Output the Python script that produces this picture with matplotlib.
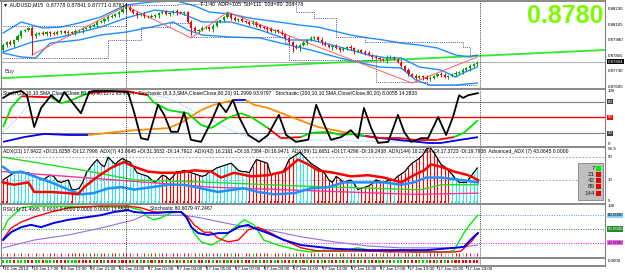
import matplotlib
matplotlib.use("Agg")
import matplotlib.pyplot as plt
from matplotlib.patches import Rectangle

plt.rcParams["font.family"] = ["Liberation Sans", "DejaVu Sans"]

# ---------------- price bars (AUDUSD, M15) ----------------
open0 = 0.87900
closes = [0.87940, 0.87964, 0.87948, 0.87981, 0.88013, 0.88053, 0.88061, 0.88077, 0.88013, 0.88029,
          0.88037, 0.88029, 0.88045, 0.88037, 0.88029, 0.88045, 0.88053, 0.88037, 0.88045, 0.88037,
          0.88053, 0.88061, 0.88069, 0.88077, 0.88093, 0.88101, 0.88126, 0.88134, 0.88150, 0.88166,
          0.88174, 0.88190, 0.88206, 0.88230, 0.88247, 0.88222, 0.88198, 0.88182, 0.88190, 0.88174,
          0.88166, 0.88174, 0.88182, 0.88198, 0.88206, 0.88190, 0.88198, 0.88214, 0.88206, 0.88198,
          0.88206, 0.88126, 0.88077, 0.88053, 0.88061, 0.88077, 0.88085, 0.88069, 0.88093, 0.88126,
          0.88142, 0.88166, 0.88190, 0.88158, 0.88142, 0.88150, 0.88134, 0.88126, 0.88110, 0.88118,
          0.88101, 0.88085, 0.88077, 0.88069, 0.88053, 0.88061, 0.88045, 0.88029, 0.87997, 0.87964,
          0.87932, 0.87916, 0.87940, 0.87956, 0.87981, 0.87997, 0.88005, 0.87981, 0.87956, 0.87940,
          0.87924, 0.87932, 0.87916, 0.87900, 0.87908, 0.87924, 0.87916, 0.87892, 0.87900, 0.87884,
          0.87876, 0.87860, 0.87844, 0.87836, 0.87827, 0.87819, 0.87836, 0.87844, 0.87827, 0.87803,
          0.87771, 0.87739, 0.87707, 0.87690, 0.87674, 0.87690, 0.87682, 0.87666, 0.87674, 0.87690,
          0.87707, 0.87699, 0.87682, 0.87690, 0.87707, 0.87715, 0.87723, 0.87739, 0.87755, 0.87771,
          0.87787, 0.87804]
hi_wick = ("324132213423" "124321324132" "143214321324" "132413214321" "322134231243" "213241321432"
           "143213241324" "132143213241" "322134231243" "213241321432" "143213241321")
lo_wick = ("231423124312" "342132413241" "213243124132" "241321342132" "413241321342" "132413214231"
           "241321432142" "314231241321" "342132413241" "213241324132" "142314231423")
spike_idx = [8, 52, 80]
spike_low = [0.87860, 0.88021, 0.87884]

# bands and channels (bar index, price)
bb_up_x = [0, 5, 11, 16, 21, 27, 31, 34, 41, 48, 53, 57, 63, 68, 78, 82, 87, 96, 101, 105, 110, 115, 120, 125, 129, 131]
bb_up = [0.88037, 0.88126, 0.88077, 0.88085, 0.88118, 0.88166, 0.88222, 0.88263, 0.88287, 0.88295, 0.88255, 0.88206,
         0.88190, 0.88158, 0.88118, 0.88101, 0.88085, 0.88021, 0.87997, 0.87981, 0.87956, 0.87940, 0.87916, 0.87860,
         0.87844, 0.87860]
bb_mid_x = [0, 8, 16, 27, 34, 42, 49, 55, 63, 71, 79, 85, 91, 101, 106, 110, 115, 121, 125, 127, 131]
bb_mid = [0.87884, 0.87964, 0.88005, 0.88085, 0.88158, 0.88222, 0.88198, 0.88126, 0.88126, 0.88061, 0.87981,
          0.87981, 0.87940, 0.87860, 0.87836, 0.87836, 0.87763, 0.87739, 0.87682, 0.87715, 0.87763]
bb_lo_x = [0, 5, 9, 13, 21, 27, 34, 41, 47, 51, 55, 63, 71, 79, 85, 93, 104, 110, 114, 118, 125, 131]
bb_lo = [0.87876, 0.87844, 0.87836, 0.87956, 0.87981, 0.88021, 0.88045, 0.88085, 0.88126, 0.88061, 0.88021,
         0.88005, 0.87997, 0.87940, 0.87900, 0.87836, 0.87763, 0.87755, 0.87658, 0.87618, 0.87618, 0.87634]
ch_up_x = [0, 34, 48, 55, 81, 86, 92, 100, 127, 129, 131]
ch_up = [0.88093, 0.88263, 0.88271, 0.88287, 0.88206, 0.88158, 0.88005, 0.87964, 0.87924, 0.87860, 0.87860]
ch_lo_x = [0, 29, 38, 46, 52, 78, 79, 103, 117, 131]
ch_lo = [0.87836, 0.87981, 0.88085, 0.88118, 0.88005, 0.87956, 0.87819, 0.87642, 0.87618, 0.87618]
zz_x = [8, 34, 52, 62, 113, 131]
zz = [0.87860, 0.88255, 0.87997, 0.88206, 0.87634, 0.87844]
trend_x = [0, 166]
trend = [0.87674, 0.87900]
bid = 0.87804
price_ticks = [0.88230, 0.88105, 0.87980, 0.87855, 0.87730, 0.87605]

# ---------------- stochastics ----------------
stk_x = [0, 2.2, 5, 6.6, 8.6, 10.5, 13.3, 15.5, 16.9, 19.3, 21.5, 23.8, 24.9, 29.8, 34.5, 36.2, 38.1, 40, 42.8,
         44.5, 46.4, 48.3, 50, 51.9, 54.7, 57.5, 59.7, 61.6, 63.5, 65.2, 67.7, 70.7, 73.2, 76.2, 78.2, 80.9, 84.3,
         86.5, 88.4, 90.6, 93.4, 96.1, 98.1, 99.7, 101.7, 103.6, 106.4, 109.1, 110.8, 112.7, 115.5, 117.4, 120.2,
         122.4, 124.3, 126, 127.1, 128.5, 131.2]
stk = [87, 96, 100, 92, 32, 68, 92, 79, 98, 77, 58, 98, 100, 100, 98, 60, 11, 8, 74, 55, 23, 23, 60, 8, 4, 42,
       77, 60, 83, 51, 17, 4, 17, 55, 17, 4, 8, 74, 42, 8, 13, 26, 11, 68, 30, 2, 4, 55, 23, 4, 11, 11, 51, 17,
       51, 92, 87, 92, 96]
sl_x = [0, 2.2, 5, 13.3, 16, 19, 23.5, 27, 34, 40, 41.5, 45.6, 51, 54.7, 57.5, 62, 65.7, 68.5, 73.2, 76.8,
        82.3, 85, 89.8, 93.4, 97, 100, 104.4, 110, 113.5, 120, 124.6, 127.3, 131.2]
sl = [32, 68, 90, 88, 77, 83, 96, 98, 100, 92, 79, 64, 58, 36, 30, 49, 58, 51, 30, 11, 13, 21, 23, 17, 19,
      15, 11, 11, 8, 8, 13, 21, 45]
sl_col = "ggrgggrrrg" "gggggggg" "rrg" "gggg" "rrrrr" "gg"
s200_x = [0, 5.8, 11.3, 18, 23.5, 36.2, 45.6, 49.2, 54.7, 58.3, 63.8, 67, 69.3, 73.2, 80.4, 87, 91.4, 95.3,
          98, 104.4, 117.4, 121, 126.5, 131.2]
s200 = [4, 13, 19, 17, 17, 26, 30, 40, 64, 74, 83, 83, 74, 68, 49, 32, 26, 21, 17, 11, 2, 2, 8, 13]
s200_col = "bbbb" "oooooo" "b" "ooooooo" "bbbbb"
sig_x = [0, 4, 8.6, 18, 29, 36, 45.6, 54.7, 64, 69, 82, 110, 131]
sig = [23, 49, 87, 96, 100, 98, 87, 55, 23, 11, 8, 4, 11]

# ---------------- ADX ----------------
adx7 = [30, 32, 34, 36, 37, 37, 36, 36, 34, 33, 31, 30, 32, 34, 33, 29, 28, 29, 30, 22,
        22, 23, 28, 36, 40, 44, 47, 43, 41, 49, 46, 43, 46, 48, 46, 45, 41, 36, 35, 34,
        33, 30, 28, 31, 34, 33, 30, 33, 37, 37, 38, 37, 36, 35, 34, 33, 34, 37, 38, 40,
        41, 42, 43, 44, 41, 38, 37, 37, 36, 42, 47, 46, 45, 44, 34, 35, 36, 36, 40, 47,
        49, 51, 53, 50, 47, 44, 42, 40, 38, 35, 30, 28, 33, 31, 28, 29, 30, 27, 22, 23,
        24, 25, 27, 30, 29, 28, 29, 30, 30, 33, 35, 37, 41, 44, 46, 48, 51, 56, 57, 53,
        48, 43, 41, 38, 35, 31, 28, 28, 28, 32, 36, 40]
adx_col = ("rrcccccccccc" "cccccccrcccc" "cccccccccccc" "ccccccccrrrr" "rrrrrrrccccc" "ccccccccrrrr"
           "rrrrrrrrrccc" "ccrrrrrrrrrr" "cccrrrrrrrcr" "crrrrrrrrrrr" "rrrrcccccccc")
ar_x = [0, 3, 7, 8.6, 13.3, 18, 20.7, 22.4, 26.2, 29.8, 33.4, 36.2, 40, 43.6, 48.3, 52.8, 57.5, 60.2, 63.8,
        68.5, 73.2, 77.6, 81.5, 84.3, 87, 91.4, 96.1, 100.8, 105.2, 110, 113.5, 116.3, 118.2, 121, 124.6,
        128.5, 131.2]
ar = [28, 26, 28, 20, 20, 19, 18, 24, 33, 40, 45, 41, 37, 36, 36, 38, 37, 32, 36, 33, 34, 37, 47, 43, 38,
      36, 33, 34, 32, 28, 34, 38, 43, 41, 37, 34, 30]
ab_x = [0, 2.2, 5, 8.6, 13.3, 18, 21.5, 25, 29, 32.6, 36.2, 41, 45.6, 50, 54.7, 59.4, 63.8, 66.6, 70.4, 74.9,
        80.4, 85, 89.8, 94.2, 100.8, 105.2, 110, 113.5, 116.9, 121, 126.5, 131.2]
ab = [41, 36, 37, 33, 28, 22, 18, 19, 23, 24, 22, 24, 26, 26, 23, 20, 22, 23, 20, 18, 19, 23, 24, 28, 28,
      28, 26, 28, 32, 32, 30, 28]
ag_x = [0, 24.3, 36.2, 57.5, 82, 113.5, 115.5, 121, 131.2]
ag = [49, 37, 30, 28, 25, 22, 22, 26, 26]
am_x = [0, 57.5, 113.5, 131.2]
am = [37, 24, 18, 19]
legend_periods = ["7", "21", "42", "89", "144"]
legend_cols = ["#00ee00", "#ee0000", "#ee0000", "#ee0000", "#ee0000"]

# ---------------- RSI panel ----------------
rb_x = [0, 2.2, 5, 7.7, 10.5, 14, 18, 23.5, 27, 30.7, 34.5, 36.2, 39, 42.8, 46.4, 49.2, 50.6, 52, 53.9, 56.6,
        59.4, 62, 65, 67.7, 69.3, 73.2, 77.6, 82.3, 87, 91.4, 100.8, 110, 117, 124.6, 127.3, 130, 131.2]
rb = [26, 43, 54, 59, 54, 63, 70, 76, 80, 87, 91, 87, 85, 85, 87, 87, 76, 54, 41, 37, 41, 41, 54, 59, 52,
      41, 26, 15, 11, 7, 4, 4, 4, 9, 11, 33, 41]
rr_x = [0, 2.2, 5, 8.6, 13.3, 18, 22.4, 27, 34.5, 38.1, 41.7, 45.6, 49.2, 51.1, 52.8, 55.5, 57.5, 59.4, 62.2,
        65, 67.7, 70.4, 74, 77.6, 82.3, 87, 99, 110, 124.6, 126.5, 129.3, 131.2]
rr = [28, 52, 65, 76, 87, 96, 98, 100, 100, 96, 87, 87, 87, 76, 59, 43, 43, 30, 22, 26, 48, 54, 41, 26, 9, 2,
      2, 0, 0, 2, 22, 41]
rg_x = [0, 1.4, 5, 8.6, 34.5, 38.1, 40, 41.7, 43.6, 46.4, 49.2, 51.1, 52.8, 54.7, 57.5, 60.2, 63.8, 66.6,
        69.3, 72, 76, 81.5, 85, 88.7, 93.4, 98, 102.5, 107.2, 110, 113.5, 123, 124.6, 127.3, 129.3, 131.2]
rg = [48, 70, 96, 100, 98, 91, 76, 70, 74, 85, 87, 70, 41, 22, 15, 26, 52, 70, 59, 26, 15, 4, 0, 4, 2, 9, 2,
      0, 4, 0, 0, 4, 41, 63, 80]
rp_x = [0, 8.6, 18, 27, 36.2, 39, 50, 54.7, 63.8, 73.2, 82.3, 91.4, 100.8, 110, 124.6, 131.2]
rp = [9, 26, 37, 52, 70, 80, 80, 74, 59, 48, 33, 22, 13, 9, 9, 15]
tick_col = ("prprprprprpr" "prrprprrrrrg" "rrgrrgrrgrrr" "prprgrrgrrpr" "rprrprgrrgrr" "grrgrrprrgrr"
            "rrprrgrrgrrr" "prrgrprrgrrp" "rrgrrprrgrrp" "rrprrgrrpprr" "rrppgrrprrpr")
dot_col = ("gggrgggrrggr" "gggrrrgggrrr" "rgrrgrrrgrrr" "grgrgrgrrgrg" "rgrgrgrrgrgr" "grgrgrgrrgrg"
           "rgrgrgrrgrgr" "grgrgrgrrgrg" "rgrgrgrrgrgr" "gggrgrrgggrr" "grgrgrrrrrrr")

time_idx = [0, 8, 16, 24, 32, 40, 48, 56, 64, 72, 80, 88, 96, 104, 112, 120, 128]
time_lbl = ["16 Jan 2014", "16 Jan 17:00", "16 Jan 19:00", "16 Jan 21:00", "16 Jan 23:00", "17 Jan 01:00",
            "17 Jan 03:00", "17 Jan 05:00", "17 Jan 07:00", "17 Jan 09:00", "17 Jan 11:00", "17 Jan 13:00",
            "17 Jan 15:00", "17 Jan 17:00", "17 Jan 19:00", "17 Jan 21:00", "17 Jan 23:00"]

# ---------------- figure ----------------
W, H = 625, 273
fig = plt.figure(figsize=(6.25, 2.73), dpi=100)
fig.patch.set_facecolor("white")
XL = (-0.3, 166.3)
GREEN, RED = "#00a000", "#ff0000"
CMAP = {"g": "#00dd00", "r": "#ff0000", "b": "#0000ee", "o": "#ff8c00", "c": "#33e6ee", "p": "#ff99bb"}


def px_axes(y0, y1, x0=2, x1=605):
    a = fig.add_axes([x0 / W, 1 - y1 / H, (x1 - x0) / W, (y1 - y0) / H])
    a.set_xlim(*XL)
    a.axis("off")
    return a


def ftext(x, y, s, **kw):
    kw.setdefault("fontsize", 3.6)
    kw.setdefault("va", "center")
    fig.text(x / W, 1 - y / H, s, **kw)


def seg_plot(a, xs, ys, cols, lw):
    for k in range(len(xs) - 1):
        a.plot(xs[k:k + 2], ys[k:k + 2], color=CMAP[cols[k]], lw=lw, solid_capstyle="butt")


def right_label(a, v, s, fc=None, tc="black"):
    bb = dict(boxstyle="square,pad=0.12", fc=fc, ec="none") if fc else None
    a.text(1.004, v, s, transform=a.get_yaxis_transform(), fontsize=3.2, va="center",
           ha="left", color=tc, bbox=bb, clip_on=False)


# main price panel
ax = px_axes(2, 89)
ax.set_ylim(0.87586, 0.88287)
ax.axhline(bid, color="#b4b4b4", lw=0.8)
ax.plot(trend_x, trend, color="#2ee82e", lw=1.3)
ax.plot(bb_up_x, bb_up, color="#1e90ff", lw=1.0)
ax.plot(bb_mid_x, bb_mid, color="#1e90ff", lw=1.0)
ax.plot(bb_lo_x, bb_lo, color="#1e90ff", lw=1.0)
ax.plot(ch_up_x, ch_up, color="#5050a0", lw=0.7, ls=(0, (1, 1.2)), drawstyle="steps-post")
ax.plot(ch_lo_x, ch_lo, color="#5050a0", lw=0.7, ls=(0, (1, 1.2)), drawstyle="steps-post")
ax.plot(zz_x, zz, color="#ff6060", lw=0.7)
opens = [open0] + closes[:-1]
for i, (o, c) in enumerate(zip(opens, closes)):
    col = GREEN if c >= o else RED
    hi = max(o, c) + int(hi_wick[i]) * 0.00005
    lo = min(o, c) - int(lo_wick[i]) * 0.00005
    if i in spike_idx:
        lo = spike_low[spike_idx.index(i)]
    ax.vlines(i, lo, hi, color=col, lw=0.7)
    ax.add_patch(Rectangle((i - 0.3, min(o, c)), 0.6, max(abs(c - o), 0.00003), color=col, lw=0))
for p in price_ticks:
    right_label(ax, p, "%.5f" % p)
right_label(ax, bid, "%.5f" % bid, fc="black", tc="white")
ax.text(0.5, 0.87730, "Buy", fontsize=4.2, color="#303060", va="center")
ftext(3, 4.5, "\u25bc AUDUSD,M15  0.87778 0.87841 0.87771 0.87814", fontsize=3.8)
ftext(200, 4.5, "T-1:40  ADR=105  5d=111  10d=90  20d=78", fontsize=3.8)
ftext(603, 16, "0.8780", fontsize=18, fontweight="bold", color="#7cfc00", ha="right")

# stochastic panel
ax2 = px_axes(90, 146)
ax2.set_ylim(-3.8, 101.9)
for lv in (80, 20):
    ax2.axhline(lv, color="#808080", lw=0.8)
ax2.axhline(50, color="#ff0000", lw=1.0)
ax2.plot(sig_x, sig, color="#87cefa", lw=0.8, ls=(0, (1, 1)))
seg_plot(ax2, s200_x, s200, s200_col, 1.3)
seg_plot(ax2, sl_x, sl, sl_col, 1.3)
ax2.plot(stk_x, stk, color="black", lw=1.3)
right_label(ax2, 100, "100")
right_label(ax2, 80, "80", fc="#404040", tc="white")
right_label(ax2, 50, "50", fc="#ff0000", tc="white")
right_label(ax2, 20, "20", fc="#404040", tc="white")
right_label(ax2, 0, "0")
ftext(3, 93.5, "Stoch (21,10,10,SMA,Close/Close,80,20) 90.1271 95.4424   Stochastic (8,3,3,SMA,Close/Close,80,20) "
      "91.2999 93.9797   Stochastic (200,10,10,SMA,Close/Close,80,20) 8.0055 14.2833")

# ADX panel
ax3 = px_axes(147, 203)
ax3.set_ylim(10.8, 57.5)
for lv in (49, 30):
    ax3.axhline(lv, color="#909090", lw=0.6, ls=(0, (2, 2)))
for i, v in enumerate(adx7):
    ax3.vlines(i, 10.8, v, color=CMAP[adx_col[i]], lw=0.8)
ax3.plot(range(len(adx7)), adx7, color="black", lw=0.9)
ax3.plot(am_x, am, color="#ff3399", lw=1.0)
ax3.plot(ag_x, ag, color="#22dd22", lw=1.0)
ax3.plot(ab_x, ab, color="#1e90ff", lw=1.8)
ax3.plot(ar_x, ar, color="#ff0000", lw=1.8)
ax3.scatter(range(len(adx7)), [11.7] * len(adx7), s=1.2, marker="s", linewidths=0,
            c=[CMAP[ch] for ch in adx_col], zorder=5)
right_label(ax3, 55.8, "54.9")
right_label(ax3, 49, "50")
right_label(ax3, 30, "30")
right_label(ax3, 12.5, "5")
ftext(3, 151, "ADX(21) 17.8422 +DI:21.8258 -DI:12.7998  ADX(7) 43.0645 +DI:31.3832 -DI:14.7912  "
      "ADX(42) 16.2161 +DI:18.7384 -DI:16.9471  ADX(89) 11.6651 +DI:17.4296 -DI:19.2438  "
      "ADX(144) 18.2789 +DI:17.3723 -DI:19.7938  Advanced_ADX (7) 43.0645 0.0000")
fig.add_artist(Rectangle((578 / W, 1 - 200 / H), 25 / W, 37 / H, transform=fig.transFigure,
                         fc="#c0c0c0", ec="#808080", lw=0.6))
for k, (lab, col) in enumerate(zip(legend_periods, legend_cols)):
    yy = 168 + k * 6.3
    ftext(595, yy, lab, fontsize=4.5, ha="right", color="#202020")
    fig.add_artist(Rectangle((596 / W, 1 - (yy + 2.5) / H), 5 / W, 5 / H, transform=fig.transFigure,
                             fc=col, ec="none"))

# RSI panel
ax4 = px_axes(204, 257)
ax4.set_ylim(-10.9, 104.3)
ax4.axhline(80, color="#6495ed", lw=0.7, ls=(0, (1, 1.5)))
ax4.axhline(50, color="#228b22", lw=0.7, ls=(0, (1, 1.5)))
ax4.axhline(20, color="#ff00ff", lw=0.7, ls=(0, (1, 1.5)))
ax4.plot(rp_x, rp, color="#9370db", lw=0.8)
ax4.plot(rg_x, rg, color="#00ee00", lw=1.0)
ax4.plot(rr_x, rr, color="#ff0000", lw=1.0)
ax4.plot(rb_x, rb, color="#0000ee", lw=1.4)
for i, ch in enumerate(tick_col):
    ax4.vlines(i, -8, -1.5, color=CMAP[ch], lw=0.7)
right_label(ax4, 100, "100")
right_label(ax4, 80, "80.0000", fc="#87cefa")
right_label(ax4, 50, "50.0000", fc="#228b22", tc="white")
right_label(ax4, 20, "20.0000", fc="#ff66ff")
ftext(3, 209, "RSI(14) 21.4995  0.0000 0.0000 0.0000 0.0000 13.5594")
ftext(150, 209, "Stochastic 80.6079 47.2467")

# signal dots row
ax5 = px_axes(258, 265)
ax5.set_ylim(0, 1)
ax5.scatter(range(len(dot_col)), [0.5] * len(dot_col), s=2.2, marker="s", linewidths=0,
            c=[CMAP[ch] for ch in dot_col])
right_label(ax5, 0.5, "0.0000")

# day separators / current bar
for a in (ax, ax2, ax3, ax4, ax5):
    a.axvline(34, color="black", lw=0.6, ls=(0, (1, 1.5)))
    a.axvline(131.8, color="black", lw=0.6, ls=(0, (1, 1.5)))

# frame lines
for yy in (1, 89.5, 146.5, 203.5, 257.5, 265.5):
    fig.add_artist(plt.Line2D([0, 605 / W], [1 - yy / H] * 2, color="#808080", lw=1.3,
                              transform=fig.transFigure))
fig.add_artist(plt.Line2D([605 / W] * 2, [1 - 266 / H, 1], color="#808080", lw=0.8,
                          transform=fig.transFigure))
fig.add_artist(plt.Line2D([1 / W] * 2, [1 - 266 / H, 1], color="#808080", lw=0.8,
                          transform=fig.transFigure))

for i, lab in zip(time_idx, time_lbl):
    xpx = 2 + (i + 0.3) / (XL[1] - XL[0]) * 603
    ftext(xpx + 0.5, 269.5, lab, fontsize=3.2)
    fig.add_artist(plt.Line2D([xpx / W] * 2, [1 - 266 / H, 1 - 267.5 / H], color="black", lw=0.5,
                              transform=fig.transFigure))

fig.savefig("out.png", dpi=100)
